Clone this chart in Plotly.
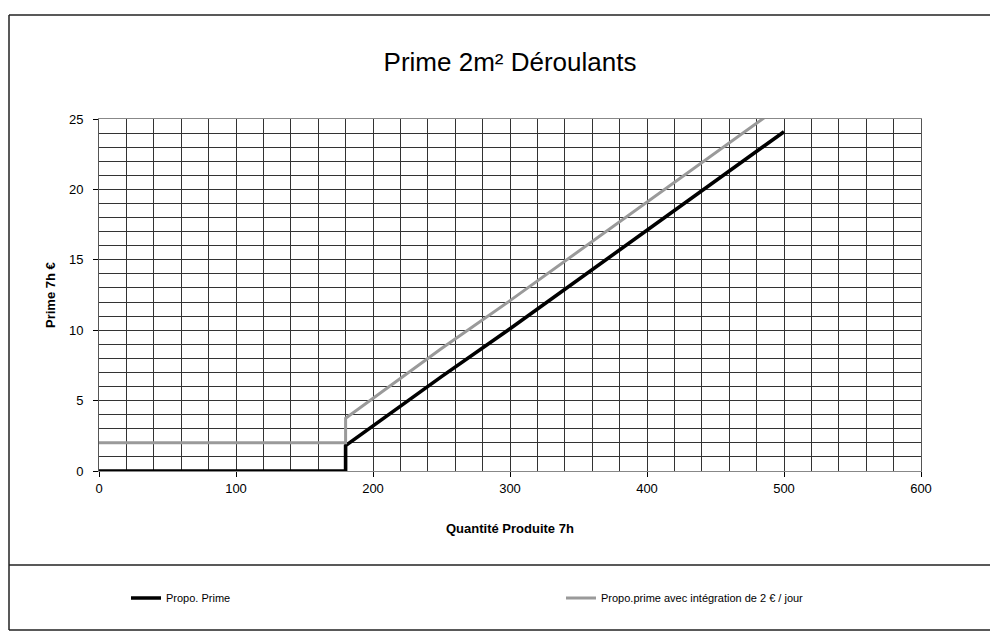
import plotly.graph_objects as go

# Data
qty_prime = [0, 180, 180, 250, 300, 350, 400, 450, 500]
val_prime = [0.0, 0.0, 1.8, 6.7, 10.1, 13.6, 17.1, 20.6, 24.1]

qty_integ = [0, 180, 180, 250, 300, 350, 400, 450, 500]
val_integ = [2.0, 2.0, 3.75, 8.7, 12.1, 15.6, 19.1, 22.6, 26.1]

x_ticks = [0, 100, 200, 300, 400, 500, 600]
y_ticks = [0, 5, 10, 15, 20, 25]

OFF = 8                      # page body margin
W, H = 998 - 2 * OFF, 639 - 2 * OFF
L, R, T, B = 99, 921, 119, 471  # plot area in page px


def px(xp):
    return (xp - L) / (R - L)


def py(yp):
    return (B - yp) / (B - T)


FONT = "Liberation Sans, Arial, sans-serif"

fig = go.Figure()
fig.add_trace(go.Scatter(
    x=qty_prime, y=val_prime, mode="lines", name="Propo. Prime",
    legend="legend",
    line=dict(color="#000000", width=3.6)))
fig.add_trace(go.Scatter(
    x=qty_integ, y=val_integ, mode="lines",
    name="Propo.prime avec intégration de 2 € / jour",
    legend="legend2",
    line=dict(color="#9a9a9a", width=3)))

grid = "#333333"
leg_common = dict(orientation="h", xanchor="left", yanchor="middle",
                  font=dict(size=11, family=FONT, color="#000"),
                  bgcolor="rgba(0,0,0,0)", itemwidth=30)
fig.update_layout(
    width=W, height=H,
    margin=dict(l=L - OFF, r=(OFF + W) - R, t=T - OFF, b=(OFF + H) - B),
    paper_bgcolor="white", plot_bgcolor="white",
    font=dict(family=FONT, color="#000"),
    title=dict(text="Prime 2m² Déroulants", x=(510 - OFF) / W, xanchor="center",
               y=1 - (62 - OFF) / H, yanchor="middle",
               font=dict(size=26, family=FONT, color="#000")),
    showlegend=True,
    legend=dict(x=px(126), y=py(598), **leg_common),
    legend2=dict(x=px(561), y=py(598), **leg_common),
    xaxis=dict(range=[0, 600], tickvals=x_ticks, ticktext=[str(v) for v in x_ticks],
               showgrid=False, zeroline=False,
               minor=dict(dtick=20, showgrid=True, gridcolor=grid, gridwidth=1, ticks=""),
               ticks="outside", ticklen=5, tickcolor="#000",
               tickfont=dict(size=13, family=FONT, color="#000"),
               showline=True, linecolor="#888", linewidth=1, mirror=True,
               ticklabelstandoff=0, fixedrange=True),
    yaxis=dict(range=[0, 25], tickvals=y_ticks, ticktext=[str(v) for v in y_ticks],
               showgrid=False, zeroline=False,
               minor=dict(dtick=1, showgrid=True, gridcolor=grid, gridwidth=1, ticks=""),
               ticks="outside", ticklen=5, tickcolor="#000",
               tickfont=dict(size=13, family=FONT, color="#000"),
               showline=True, linecolor="#555", linewidth=1, mirror=True,
               ticklabelstandoff=7, fixedrange=True),
)

# Axis titles
fig.add_annotation(text="<b>Quantité Produite 7h</b>", xref="paper", yref="paper",
                   x=px(510), y=py(528), xanchor="center", yanchor="middle",
                   showarrow=False, font=dict(size=13, family=FONT, color="#000"))
fig.add_annotation(text="<b>Prime 7h €</b>", xref="paper", yref="paper",
                   x=px(50), y=py(295), xanchor="center", yanchor="middle",
                   textangle=-90, showarrow=False,
                   font=dict(size=13, family=FONT, color="#000"))

# Chart frame and legend separator
frame = dict(color="#222", width=1.5)
fig.add_shape(type="line", xref="paper", yref="paper",
              x0=px(9), x1=px(1000), y0=py(15), y1=py(15), line=frame)
fig.add_shape(type="line", xref="paper", yref="paper",
              x0=px(9), x1=px(9), y0=py(15), y1=py(630), line=frame)
fig.add_shape(type="line", xref="paper", yref="paper",
              x0=px(9), x1=px(1000), y0=py(565), y1=py(565), line=frame)
fig.add_shape(type="line", xref="paper", yref="paper",
              x0=px(9), x1=px(1000), y0=py(630), y1=py(630), line=frame)

fig.write_html("out.html")
